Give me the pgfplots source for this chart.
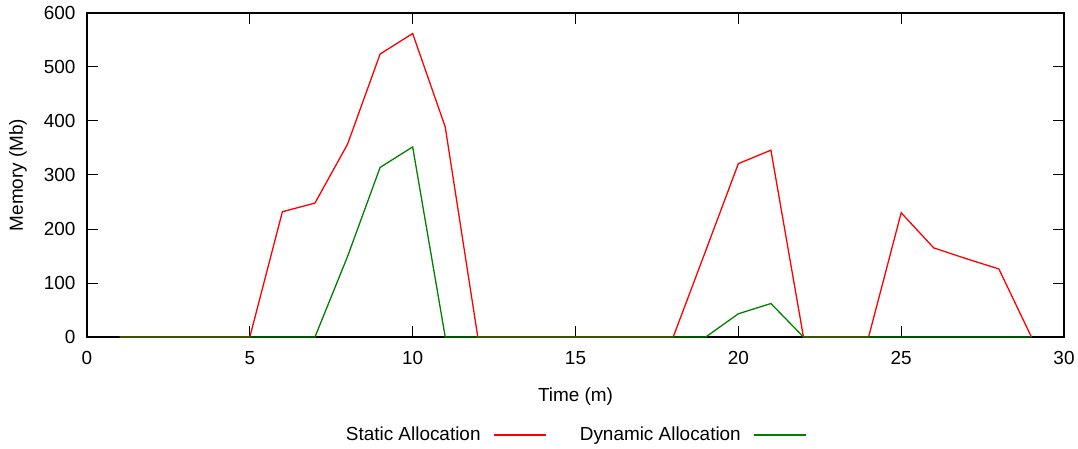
\documentclass[border=0pt]{standalone}
\usepackage{pgfplots}
\pgfplotsset{compat=1.18}
\usepackage{fontspec}
\setmainfont{Liberation Sans}
\definecolor{gred}{RGB}{255,0,0}
\definecolor{ggreen}{RGB}{0,128,0}
\begin{document}
\begin{tikzpicture}
\begin{axis}[
  scale only axis,
  width=977bp, height=324bp,
  xmin=0, xmax=30, ymin=0, ymax=600,
  xtick={0,5,...,30}, ytick={0,100,...,600},
  tick align=inside,
  major tick length=11bp,
  tick style={black, line width=1bp},
  axis line style={black, line width=1.6bp},
  font=\fontsize{19}{22}\selectfont,
  /pgf/number format/assume math mode=true,
  xlabel={Time (m)}, ylabel={Memory (Mb)},
  xlabel style={at={(0.5,0)}, anchor=center, yshift=-60bp},
  ylabel style={at={(0,0.5)}, anchor=center, yshift=69bp},
  xticklabel style={yshift=-11bp},
  yticklabel style={xshift=-8bp},
  legend plot pos=right,
  legend columns=2,
  legend style={draw=none, at={(0.5,-0.302)}, anchor=center,
    /tikz/every even column/.append style={column sep=31bp},
    font=\fontsize{19}{22}\selectfont},
  legend image code/.code={\path (0bp,0bp); \draw[#1] (11bp,0bp) -- (63bp,0bp);},
]
\addplot[gred, line width=1.3bp] coordinates {
(1,0)(2,0)(3,0)(4,0)(5,0)(6,232)(7,248)(8,357)(9,524)(10,562)(11,389)(12,0)
(13,0)(14,0)(15,0)(16,0)(17,0)(18,0)(19,160)(20,321)(21,346)(22,0)(23,0)(24,0)
(25,230)(26,165)(27,145)(28,126)(29,0)};
\addlegendentry{Static Allocation}
\addplot[ggreen, line width=1.3bp] coordinates {
(1,0)(2,0)(3,0)(4,0)(5,0)(6,0)(7,0)(8,149)(9,314)(10,352)(11,0)
(12,0)(13,0)(14,0)(15,0)(16,0)(17,0)(18,0)(19,0)(20,43)(21,62)(22,0)(23,0)(24,0)
(25,0)(26,0)(27,0)(28,0)(29,0)};
\addlegendentry{Dynamic Allocation}
\end{axis}
\pgfresetboundingbox
\useasboundingbox ([xshift=-87bp,yshift=-112bp]current axis.south west) rectangle ([xshift=14bp,yshift=13bp]current axis.north east);
\end{tikzpicture}
\end{document}
